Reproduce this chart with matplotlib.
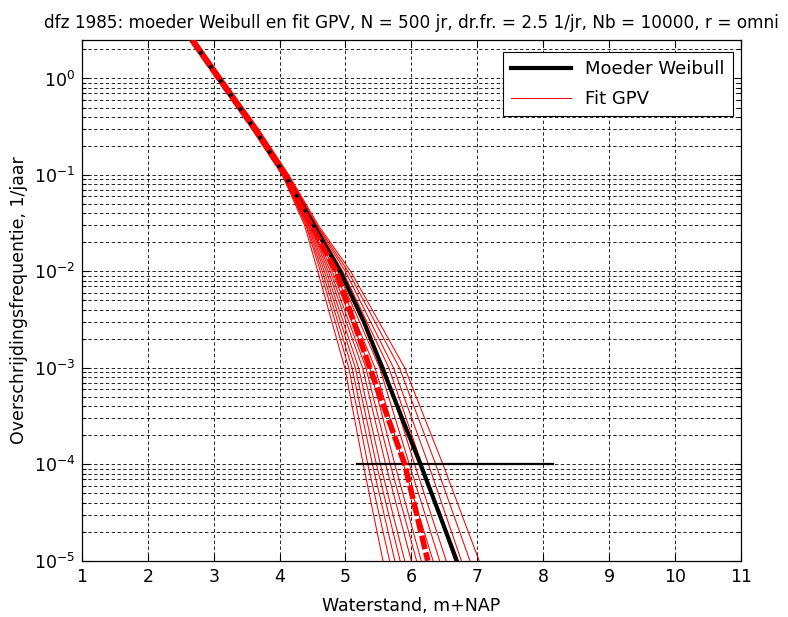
import matplotlib.pyplot as plt
import numpy as np

plt.rcParams['font.family'] = ['DejaVu Sans']
plt.rcParams['axes.unicode_minus'] = False

wb_freq = [2.5, 1.0, 0.3, 0.1, 3e-2, 1e-2, 3e-3, 1e-3, 3e-4, 1e-4, 3e-5, 1e-5]
wb_x = [2.67, 3.08, 3.62, 4.08, 4.52, 4.92, 5.28, 5.56, 5.86, 6.14, 6.43, 6.69]

fit_freq = [2.5, 1.0, 0.3, 0.1, 3e-2, 1e-2, 1e-3, 1e-4, 1e-5]
gpv_x = [
    [2.63, 3.04, 3.58, 4.04, 4.38, 4.58, 4.99, 5.27, 5.57],
    [2.64, 3.05, 3.59, 4.05, 4.40, 4.62, 5.05, 5.34, 5.67],
    [2.65, 3.05, 3.59, 4.05, 4.41, 4.65, 5.10, 5.41, 5.75],
    [2.65, 3.06, 3.60, 4.06, 4.43, 4.68, 5.15, 5.47, 5.83],
    [2.66, 3.06, 3.61, 4.06, 4.44, 4.71, 5.20, 5.53, 5.90],
    [2.67, 3.07, 3.61, 4.07, 4.46, 4.74, 5.26, 5.61, 6.00],
    [2.67, 3.08, 3.62, 4.07, 4.47, 4.77, 5.31, 5.68, 6.08],
    [2.68, 3.08, 3.62, 4.08, 4.49, 4.80, 5.37, 5.75, 6.15],
    [2.69, 3.09, 3.63, 4.09, 4.51, 4.84, 5.45, 5.88, 6.33],
    [2.69, 3.10, 3.64, 4.10, 4.52, 4.88, 5.52, 5.97, 6.43],
    [2.70, 3.10, 3.65, 4.10, 4.54, 4.92, 5.59, 6.05, 6.53],
    [2.70, 3.11, 3.65, 4.11, 4.55, 4.96, 5.66, 6.16, 6.66],
    [2.71, 3.12, 3.66, 4.12, 4.56, 5.00, 5.73, 6.26, 6.76],
    [2.72, 3.12, 3.67, 4.13, 4.57, 5.04, 5.82, 6.37, 6.89],
    [2.72, 3.13, 3.68, 4.14, 4.59, 5.08, 5.90, 6.48, 7.03],
]
gpv_mid_x = [2.67, 3.08, 3.62, 4.08, 4.48, 4.86, 5.37, 5.90, 6.25]

# horizontale lijn op 1e-4
h_freq = 1e-4
h_x = [5.17, 8.15]

fig = plt.figure(figsize=(7.88, 6.17), dpi=100)
ax = fig.add_axes([0.104, 0.091, 0.836, 0.844])

for i, xs in enumerate(gpv_x):
    ax.plot(xs, fit_freq, '-', color='r', lw=0.75,
            label='Fit GPV' if i == 0 else None, zorder=3)
ax.plot(wb_x, wb_freq, '-', color='k', lw=3, label='Moeder Weibull', zorder=4)
ax.plot(gpv_mid_x, fit_freq, color='r', lw=4, ls=(0, (2.5, 0.6)), zorder=5)
ax.plot(h_x, [h_freq, h_freq], '-', color='k', lw=1.6, zorder=4)

ax.set_yscale('log')
ax.set_xlim(1, 11)
ax.set_ylim(1e-5, 2.5)
ax.set_xticks(range(1, 12))

dash = (0, (4, 3))
ax.grid(True, which='major', axis='both', ls=dash, color='k', lw=0.6)
ax.grid(True, which='minor', axis='y', ls=dash, color='k', lw=0.6)
ax.tick_params(which='both', direction='in', top=True, right=True,
               labelsize=12.5, width=0.8)
ax.tick_params(which='major', length=5, pad=5)
ax.tick_params(which='minor', length=3)
for s in ax.spines.values():
    s.set_linewidth(0.9)

ax.set_xlabel('Waterstand, m+NAP', fontsize=12.5, labelpad=8)
ax.set_ylabel('Overschrijdingsfrequentie, 1/jaar', fontsize=12.5, labelpad=4)
ax.set_title('dfz 1985: moeder Weibull en fit GPV, N = 500 jr, dr.fr. = 2.5 1/jr, '
             'Nb = 10000, r = omni', fontsize=12.2, pad=9)

h, l = ax.get_legend_handles_labels()
leg = ax.legend(h[::-1], l[::-1], loc='upper right', fontsize=13,
                fancybox=False, edgecolor='k', framealpha=1,
                handlelength=3.3, borderpad=0.45, labelspacing=0.65,
                borderaxespad=0, bbox_to_anchor=(0.988, 0.977))
leg.get_frame().set_linewidth(0.8)

fig.savefig('out.png', dpi=100, facecolor='white')
